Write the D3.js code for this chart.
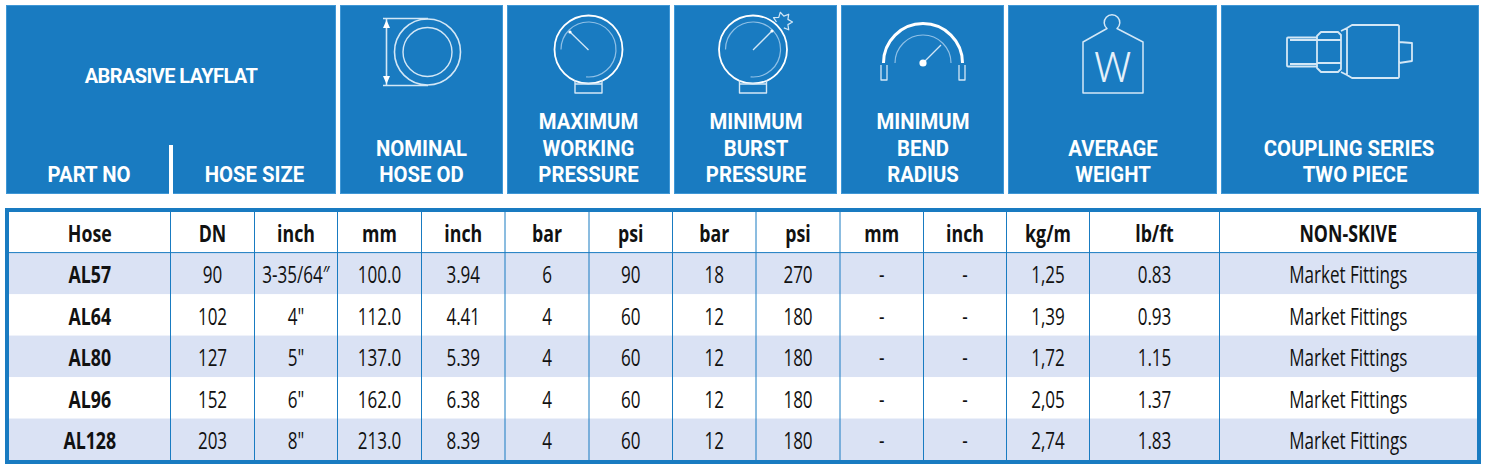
<!DOCTYPE html>
<html>
<head>
<meta charset="utf-8">
<script src="https://cdn.jsdelivr.net/npm/d3@7"></script>
<style>
  html, body { margin: 0; padding: 0; background: #fff; }
  svg { display: block; }
</style>
</head>
<body>
<div id="chart"></div>
<script>
// table values
const hoses = ['AL57', 'AL64', 'AL80', 'AL96', 'AL128'];
const dn = ['90', '102', '127', '152', '203'];
const sizeInch = ['3-35/64″', '4"', '5"', '6"', '8"'];
const odMm = ['100.0', '112.0', '137.0', '162.0', '213.0'];
const odInch = ['3.94', '4.41', '5.39', '6.38', '8.39'];
const workBar = ['6', '4', '4', '4', '4'];
const workPsi = ['90', '60', '60', '60', '60'];
const burstBar = ['18', '12', '12', '12', '12'];
const burstPsi = ['270', '180', '180', '180', '180'];
const bendMm = ['-', '-', '-', '-', '-'];
const bendInch = ['-', '-', '-', '-', '-'];
const weightKg = ['1,25', '1,39', '1,72', '2,05', '2,74'];
const weightLb = ['0.83', '0.93', '1.15', '1.37', '1.83'];
const coupling = ['Market Fittings', 'Market Fittings', 'Market Fittings', 'Market Fittings', 'Market Fittings'];

const unitLabels = ['Hose', 'DN', 'inch', 'mm', 'inch', 'bar', 'psi', 'bar', 'psi', 'mm', 'inch', 'kg/m', 'lb/ft', 'NON-SKIVE'];
const columns = [hoses, dn, sizeInch, odMm, odInch, workBar, workPsi, burstBar, burstPsi, bendMm, bendInch, weightKg, weightLb, coupling];

const headerTitle = 'ABRASIVE LAYFLAT';
const headerLabels = [
  ['PART NO'], ['HOSE SIZE'], ['NOMINAL', 'HOSE OD'], ['MAXIMUM', 'WORKING', 'PRESSURE'],
  ['MINIMUM', 'BURST', 'PRESSURE'], ['MINIMUM', 'BEND', 'RADIUS'], ['AVERAGE', 'WEIGHT'],
  ['COUPLING SERIES', 'TWO PIECE']
];

// layout
const W = 1485, H = 470;
const blue = '#197bc1', edge = '#3f97d6', zebra = '#dae2f4', ink = '#111';
const headFont = 'Roboto, sans-serif';
const bodyFont = '"Open Sans", sans-serif';
const panels = [[6, 336], [340, 503], [507, 670], [674, 837], [841, 1004], [1008, 1217], [1221, 1479]];
const headerCx = [89, 254.5, 421.5, 588.5, 756, 923, 1113, 1349];
const colEdges = [9, 170.5, 254.5, 337.5, 421.5, 505, 589, 672.5, 756, 840, 923.5, 1006.5, 1089.5, 1219.5, 1477];

const svg = d3.select('#chart').append('svg').attr('width', W).attr('height', H);

// header panels
svg.append('g').selectAll('rect').data(panels).enter().append('rect')
  .attr('x', d => d[0] + 0.5).attr('y', 5.5)
  .attr('width', d => d[1] - d[0] - 1).attr('height', 188)
  .attr('fill', blue).attr('stroke', edge).attr('stroke-width', 1);

svg.append('rect').attr('x', 169).attr('y', 145).attr('width', 4).attr('height', 49).attr('fill', '#fff');

function headText(sel, x, y, sx) {
  return sel.attr('font-family', headFont).attr('font-weight', 700).attr('fill', '#fff')
    .attr('font-size', 21.5).attr('text-anchor', 'middle')
    .attr('transform', `translate(${x},${y}) scale(${sx},1)`);
}

svg.append('text').call(headText, 171, 83, 1)
  .attr('font-size', 20).attr('letter-spacing', -0.6).text(headerTitle);

headerLabels.forEach((lines, i) => {
  const g = svg.append('g');
  lines.forEach((line, j) => {
    const back = lines.length - 1 - j;
    // the second coupling line sits a bit right in the original
    const shift = line === 'TWO PIECE' ? 6 : 0;
    g.append('text').call(headText, headerCx[i] + shift, 182 - back * 26.5, 0.945).text(line);
  });
});

// icons
const icons = svg.append('g').attr('fill', 'none').attr('stroke', '#fff').attr('stroke-linejoin', 'round');
const soft = '#d3e7f6', dim = '#8fc0e6';

function arcPath(cx, cy, r, a0, a1) {
  const p = d3.path();
  p.arc(cx, cy, r, a0 * Math.PI / 180, a1 * Math.PI / 180);
  return p.toString();
}

// nominal hose od
icons.append('path').attr('stroke', soft).attr('stroke-width', 1.6)
  .attr('d', 'M383 18.5H428M383 85.5H428M386.5 19V85');
icons.append('path').attr('fill', '#fff').attr('stroke', 'none')
  .attr('d', 'M386.5 20L390 28H383ZM386.5 84L390 76H383Z');
icons.append('circle').attr('cx', 427.5).attr('cy', 52).attr('r', 33).attr('stroke', soft).attr('stroke-width', 1.6);
icons.append('circle').attr('cx', 427.5).attr('cy', 52).attr('r', 24.5).attr('stroke', soft).attr('stroke-width', 1.4);

// pressure gauges
function gauge(cx, tipX, tipY) {
  const g = icons.append('g');
  g.append('circle').attr('cx', cx).attr('cy', 49.5).attr('r', 34).attr('stroke-width', 1.8);
  g.append('path').attr('stroke', dim).attr('stroke-width', 1.2).attr('d', arcPath(cx, 49.5, 27.5, 180, 95));
  g.append('path').attr('stroke', soft).attr('stroke-width', 1.4)
    .attr('d', `M${cx - 13.5} 80V93H${cx + 13.5}V80M${cx - 13.5} 84H${cx + 13.5}`);
  g.append('path').attr('stroke', soft).attr('stroke-width', 1.3).attr('d', `M${cx} 50L${tipX} ${tipY}`);
  g.append('circle').attr('cx', tipX).attr('cy', tipY).attr('r', 1.6).attr('fill', '#fff').attr('stroke', 'none');
}
gauge(588.5, 570, 32);
gauge(753, 772, 31);

// burst star, open where it meets the gauge
const star = d3.range(6, 19).map(i => {
  const a = i * Math.PI / 7, r = i % 2 ? 6 : 10;
  return [782.5 + r * Math.cos(a), 22 + r * Math.sin(a)];
}).filter(d => Math.hypot(d[0] - 753, d[1] - 49.5) > 35.5);
icons.append('path').attr('stroke', soft).attr('stroke-width', 1.2).attr('d', d3.line()(star));

// bend radius
icons.append('path').attr('stroke-width', 3).attr('d', arcPath(923, 63, 39.5, 180, 360));
icons.append('path').attr('stroke', dim).attr('stroke-width', 1.2).attr('d', arcPath(923, 63, 28, 180, 360));
icons.append('path').attr('stroke', soft).attr('stroke-width', 1.3)
  .attr('d', 'M881 65V80H887V65M959 65V80H965V65M923 63L941 45');
icons.append('circle').attr('cx', 923).attr('cy', 63).attr('r', 3.6).attr('fill', '#fff').attr('stroke', 'none');

// weight
icons.append('path').attr('stroke', soft).attr('stroke-width', 1.5)
  .attr('d', 'M1083 93V42L1107 28.5A7.8 7.8 0 1 1 1117 28.5L1143 42V93Z');
svg.append('text').attr('x', 1112.5).attr('y', 82).attr('text-anchor', 'middle')
  .attr('font-family', headFont).attr('font-weight', 300).attr('font-size', 42)
  .attr('fill', '#e4f0fa').text('W');

// coupling
icons.append('path').attr('stroke', soft).attr('stroke-width', 1.8)
  .attr('d', 'M1317 37.5H1288Q1287 37.5 1287 38.5V65.5Q1287 66.5 1288 66.5H1317M1290 40H1317M1290 64H1317M1317 36L1321 32H1338L1341 35V69L1338 72H1321L1317 68ZM1317 40H1341M1317 63H1341M1341 31L1347 28V75L1341 72M1347 28L1352 25H1398L1399 26V77L1398 78H1352L1347 75M1399 42L1412 43V61L1399 63');

// data table
const rowY = d3.scaleBand().domain(hoses).range([252.6, 460]);
const headRow = { top: 212, bottom: 252.6 };
const table = svg.append('g');

table.selectAll('rect.zebra').data(hoses.filter((d, i) => i % 2 === 0)).enter().append('rect')
  .attr('class', 'zebra')
  .attr('x', colEdges[0]).attr('y', d => rowY(d))
  .attr('width', colEdges[14] - colEdges[0]).attr('height', rowY.bandwidth())
  .attr('fill', zebra);

table.selectAll('line.col').data(colEdges.slice(1, -1)).enter().append('line')
  .attr('class', 'col')
  .attr('x1', d => d).attr('x2', d => d).attr('y1', headRow.top).attr('y2', 460)
  .attr('stroke', blue).attr('stroke-width', 1);

table.append('line').attr('x1', colEdges[0]).attr('x2', colEdges[14])
  .attr('y1', headRow.bottom).attr('y2', headRow.bottom).attr('stroke', blue).attr('stroke-width', 1);

table.append('rect').attr('x', 7).attr('y', 210).attr('width', 1472).attr('height', 252)
  .attr('fill', 'none').attr('stroke', blue).attr('stroke-width', 4);

function cellText(x, y, txt, bold) {
  table.append('text')
    .attr('transform', `translate(${x},${y}) scale(${bold ? 0.74 : 0.71},1)`)
    .attr('text-anchor', 'middle').attr('font-family', bodyFont)
    .attr('font-weight', bold ? 700 : 400).attr('font-size', 24).attr('fill', ink)
    .text(txt);
}

unitLabels.forEach((label, c) => {
  const cx = (colEdges[c] + colEdges[c + 1]) / 2;
  cellText(cx, 242, label, true);
  hoses.forEach((h, r) => {
    cellText(cx, rowY(h) + rowY.bandwidth() / 2 + 10, columns[c][r], c === 0);
  });
});
</script>
</body>
</html>
